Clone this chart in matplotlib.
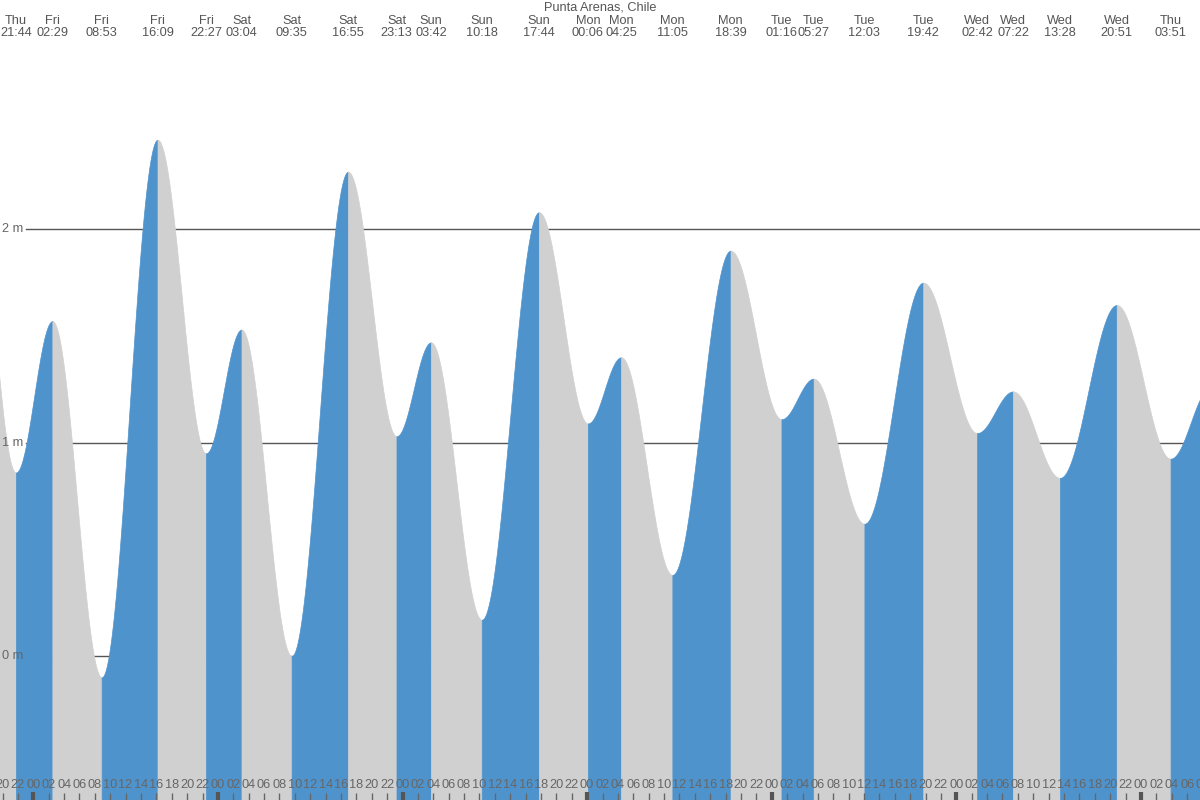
import numpy as np
import matplotlib
matplotlib.use("Agg")
import matplotlib.pyplot as plt
import matplotlib.transforms as mtransforms

plt.rcParams['font.family'] = ['Liberation Sans', 'DejaVu Sans']

title = "Punta Arenas, Chile"

# Tide extremes (visible ones, labelled at the top)
ext_days = ["Thu", "Fri", "Fri", "Fri", "Fri", "Sat", "Sat", "Sat", "Sat",
            "Sun", "Sun", "Sun", "Mon", "Mon", "Mon", "Mon", "Tue", "Tue",
            "Tue", "Tue", "Wed", "Wed", "Wed", "Wed", "Thu"]
ext_times = ["21:44", "02:29", "08:53", "16:09", "22:27", "03:04", "09:35",
             "16:55", "23:13", "03:42", "10:18", "17:44", "00:06", "04:25",
             "11:05", "18:39", "01:16", "05:27", "12:03", "19:42", "02:42",
             "07:22", "13:28", "20:51", "03:51"]
ext_heights = [0.86, 1.57, -0.10, 2.42, 0.95, 1.53, 0.00, 2.27, 1.03,
               1.47, 0.17, 2.08, 1.09, 1.40, 0.38, 1.90, 1.11, 1.30,
               0.62, 1.75, 1.045, 1.24, 0.835, 1.645, 0.925]

# Extremes just outside the visible window (hours relative to Fri 00:00)
prev_extreme = (-8.58, 2.58)    # Thu ~15:25
next_extreme = (153.08, 1.26)   # Thu ~09:05

y_ticks = [0, 1, 2]
y_tick_labels = ["0 m", "1 m", "2 m"]

BLUE = "#4f93cd"
GREY = "#d0d0d0"
TEXT = "#555555"

# convert day/time labels to hours since Fri 00:00
hours = []
day_idx = -1
prev_day = ext_days[0]
for d, t in zip(ext_days, ext_times):
    if d != prev_day:
        day_idx += 1
        prev_day = d
    hh, mm = t.split(":")
    hours.append(day_idx * 24 + int(hh) + int(mm) / 60.0)

all_t = [prev_extreme[0]] + hours + [next_extreme[0]]
all_h = [prev_extreme[1]] + ext_heights + [next_extreme[1]]

x_min = -33.3 / 7.692
x_max = x_min + 1200 / 7.692
y_min, y_max = -0.675, 3.075

fig = plt.figure(figsize=(12, 8), dpi=100)
ax = fig.add_axes([0, 0, 1, 1])
ax.set_xlim(x_min, x_max)
ax.set_ylim(y_min, y_max)
ax.axis("off")

# grid lines (behind fills)
gx0 = x_min + 26 / 7.692
for yv in y_ticks:
    ax.plot([gx0, x_max], [yv, yv], color="#555555", lw=1, zorder=1)

# tide curve segments (cosine shape between successive extremes)
for i in range(len(all_t) - 1):
    t0, t1 = all_t[i], all_t[i + 1]
    h0, h1 = all_h[i], all_h[i + 1]
    tt = np.linspace(t0, t1, 200)
    s = (tt - t0) / (t1 - t0)
    hh = h0 + (h1 - h0) * (1 - np.cos(np.pi * s)) / 2
    col = BLUE if h1 > h0 else GREY
    ax.fill_between(tt, hh, y_min, facecolor=col, edgecolor=col, lw=0.5,
                    zorder=2)

# y labels
for yv, lab in zip(y_ticks, y_tick_labels):
    ax.text(x_min + 2 / 7.692, yv, lab, ha="left", va="center",
            fontsize=9.2, color="#666666", zorder=5)

# top extreme labels
trans_top = mtransforms.blended_transform_factory(ax.transData, ax.transAxes)
for d, t, h in zip(ext_days, ext_times, hours):
    ax.text(h, 1 - 20.5 / 800, d, ha="center", va="center", fontsize=9.2,
            color=TEXT, transform=trans_top, zorder=5)
    ax.text(h, 1 - 33 / 800, t, ha="center", va="center", fontsize=9.2,
            color=TEXT, transform=trans_top, zorder=5)

ax.text(0.5, 1 - 8 / 800, title, ha="center", va="center", fontsize=9.2,
        color=TEXT, transform=ax.transAxes, zorder=5)

# bottom hour ticks and labels
for hr in range(-4, 154, 2):
    lab = "%02d" % (hr % 24)
    ax.text(hr, 15 / 800, lab, ha="center", va="center", fontsize=9.2,
            color="#666666", transform=trans_top, zorder=5)
    if hr % 24 == 0:
        ax.plot([hr, hr], [0, 8 / 800], color="#555555", lw=3.0,
                transform=trans_top, zorder=5, solid_capstyle="butt")
    else:
        ax.plot([hr, hr], [0, 7 / 800], color="#666666", lw=1.0,
                transform=trans_top, zorder=5, solid_capstyle="butt")

fig.savefig("out.png", dpi=100)
